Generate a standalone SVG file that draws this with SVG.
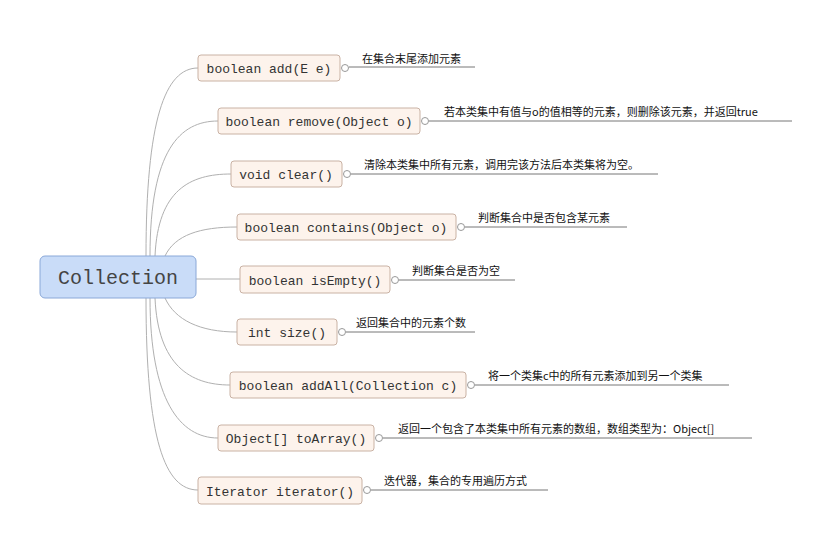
<svg xmlns="http://www.w3.org/2000/svg" width="817" height="534" viewBox="0 0 817 534">
<style>
.n{fill:#fdf3ec;stroke:#c9b2a4;stroke-width:1}
.t{font-family:"Liberation Mono","Noto Sans CJK SC",monospace;font-size:13px;fill:#333}
.l{font-family:"Noto Sans CJK SC",sans-serif;font-size:11px;fill:#111}
.c{fill:none;stroke:#b0b0b0;stroke-width:1}
.u{stroke:#777;stroke-width:1}
.o{fill:#fff;stroke:#999;stroke-width:1}
</style>
<rect width="817" height="534" fill="#fff"/>
<g id="connectors">
<path class="c" d="M146,256 C146,120 165,68 198,68"/>
<path class="c" d="M150,256 C150,150 180,121 218,121"/>
<path class="c" d="M155,256 C158,190 190,174 231,174"/>
<path class="c" d="M165,256 C175,235 200,227 237,227"/>
<path class="c" d="M196,279 L240,279"/>
<path class="c" d="M165,298 C175,320 200,332 237,332"/>
<path class="c" d="M155,298 C158,365 190,385 230,385"/>
<path class="c" d="M150,298 C150,400 180,438 218,438"/>
<path class="c" d="M146,298 C146,440 165,490 198,490"/>
</g>
<g id="root"><rect x="40" y="256" width="156" height="42" rx="5" fill="#c9dcf8" stroke="#8aa8d8"/><text x="118" y="284" text-anchor="middle" font-family="Liberation Mono,monospace" font-size="20" fill="#444">Collection</text></g>
<g id="n1"><rect class="n" x="198" y="55" width="142" height="26" rx="3"/><text class="t" x="269" y="73" text-anchor="middle">boolean add(E e)</text><line class="u" x1="349" y1="67" x2="475" y2="67"/><circle class="o" cx="345" cy="68" r="3.5"/><text class="l" x="362" y="63">在集合末尾添加元素</text></g>
<g id="n2"><rect class="n" x="218" y="108" width="202" height="26" rx="3"/><text class="t" x="319" y="126" text-anchor="middle">boolean remove(Object o)</text><line class="u" x1="429" y1="121" x2="792" y2="121"/><circle class="o" cx="425" cy="121" r="3.5"/><text class="l" x="444" y="116">若本类集中有值与o的值相等的元素，则删除该元素，并返回true</text></g>
<g id="n3"><rect class="n" x="231" y="161" width="111" height="26" rx="3"/><text class="t" x="286" y="179" text-anchor="middle">void clear()</text><line class="u" x1="351" y1="174" x2="658" y2="174"/><circle class="o" cx="347" cy="174" r="3.5"/><text class="l" x="364" y="169">清除本类集中所有元素，调用完该方法后本类集将为空。</text></g>
<g id="n4"><rect class="n" x="237" y="214" width="219" height="26" rx="3"/><text class="t" x="346" y="232" text-anchor="middle">boolean contains(Object o)</text><line class="u" x1="465" y1="227" x2="627" y2="227"/><circle class="o" cx="461" cy="227" r="3.5"/><text class="l" x="478" y="222">判断集合中是否包含某元素</text></g>
<g id="n5"><rect class="n" x="240" y="266" width="150" height="27" rx="3"/><text class="t" x="315" y="285" text-anchor="middle">boolean isEmpty()</text><line class="u" x1="399" y1="280" x2="515" y2="280"/><circle class="o" cx="395" cy="280" r="3.5"/><text class="l" x="412" y="275">判断集合是否为空</text></g>
<g id="n6"><rect class="n" x="237" y="319" width="100" height="26" rx="3"/><text class="t" x="287" y="337" text-anchor="middle">int size()</text><line class="u" x1="346" y1="332" x2="475" y2="332"/><circle class="o" cx="342" cy="332" r="3.5"/><text class="l" x="356" y="327">返回集合中的元素个数</text></g>
<g id="n7"><rect class="n" x="230" y="372" width="236" height="26" rx="3"/><text class="t" x="348" y="390" text-anchor="middle">boolean addAll(Collection c)</text><line class="u" x1="475" y1="385" x2="729" y2="385"/><circle class="o" cx="471" cy="385" r="3.5"/><text class="l" x="488" y="380">将一个类集c中的所有元素添加到另一个类集</text></g>
<g id="n8"><rect class="n" x="218" y="425" width="156" height="26" rx="3"/><text class="t" x="296" y="443" text-anchor="middle">Object[] toArray()</text><line class="u" x1="383" y1="438" x2="752" y2="438"/><circle class="o" cx="379" cy="438" r="3.5"/><text class="l" x="398" y="433">返回一个包含了本类集中所有元素的数组，数组类型为：Object[]</text></g>
<g id="n9"><rect class="n" x="198" y="477" width="164" height="27" rx="3"/><text class="t" x="280" y="496" text-anchor="middle">Iterator iterator()</text><line class="u" x1="371" y1="490" x2="548" y2="490"/><circle class="o" cx="367" cy="490" r="3.5"/><text class="l" x="384" y="485">迭代器，集合的专用遍历方式</text></g>
</svg>
